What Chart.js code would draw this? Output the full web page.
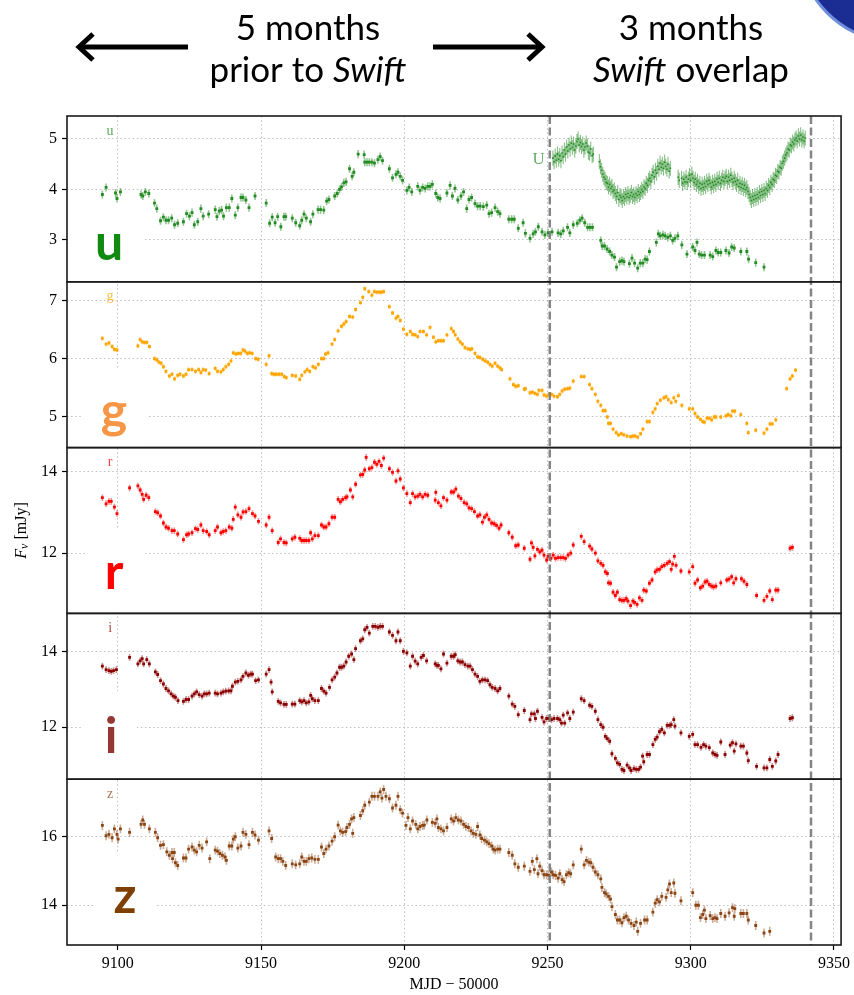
<!DOCTYPE html>
<html>
<head>
<meta charset="utf-8">
<script src="https://cdn.jsdelivr.net/npm/chart.js@4.4.1/dist/chart.umd.min.js"></script>
<style>
  html, body { margin: 0; padding: 0; background: #fff; }
  #wrap { position: relative; width: 854px; height: 995px; }
</style>
</head>
<body>
<div id="wrap"><canvas id="lc" width="854" height="995"></canvas></div>
<script>
// ---- Light curves: flux density (mJy) against MJD - 50000 ----

const uMjd = [9094.6,9095.9,9099.2,9099.7,9100.9,9108.1,9108.7,9109.6,9110.8,9112.8,9113.6,9114.9,9115.9,9116.8,9117.7,9118.8,9119.8,9120.9,9122.9,9124.0,9125.0,9125.9,9126.7,9127.9,9129.0,9129.8,9131.7,9134.0,9134.6,9135.4,9136.2,9136.9,9137.9,9138.9,9139.8,9141.0,9141.9,9143.0,9143.7,9144.7,9145.8,9147.9,9151.8,9153.0,9153.9,9154.9,9155.8,9156.9,9158.0,9158.6,9160.9,9162.1,9163.5,9164.2,9165.0,9165.8,9167.3,9168.1,9169.9,9170.8,9171.9,9172.9,9173.7,9175.7,9176.6,9177.4,9178.1,9178.9,9179.7,9180.9,9181.8,9182.4,9183.9,9186.0,9186.2,9187.0,9187.8,9188.7,9189.6,9190.8,9191.6,9192.4,9194.8,9195.9,9197.1,9197.8,9198.6,9199.4,9200.9,9201.7,9202.6,9204.7,9205.5,9206.4,9207.3,9208.2,9209.0,9209.8,9211.0,9211.7,9212.5,9214.9,9216.0,9216.8,9217.7,9218.7,9219.8,9220.7,9221.8,9222.6,9223.5,9224.7,9225.6,9226.5,9227.6,9228.8,9229.6,9230.5,9231.7,9232.6,9233.4,9236.5,9237.5,9238.4,9239.8,9241.5,9242.3,9243.9,9245.0,9245.8,9246.8,9248.1,9249.1,9250.2,9251.6,9253.7,9254.6,9255.5,9257.0,9257.8,9259.0,9260.4,9261.3,9262.1,9263.0,9264.0,9264.8,9265.7,9268.6,9269.1,9269.9,9270.8,9271.7,9272.5,9273.4,9274.1,9275.2,9276.0,9276.7,9278.6,9279.5,9280.4,9281.5,9282.4,9283.3,9284.1,9284.8,9285.6,9288.0,9288.7,9289.4,9290.3,9291.1,9292.0,9292.9,9293.7,9294.5,9295.5,9296.9,9298.7,9300.7,9301.5,9302.2,9303.0,9303.8,9304.8,9306.8,9307.7,9308.8,9309.6,9310.5,9312.3,9313.4,9314.3,9315.2,9317.5,9319.6,9320.2,9322.7,9325.6];
const uFlux = [3.90,4.04,3.93,3.82,3.95,3.90,3.87,3.95,3.92,3.73,3.62,3.38,3.45,3.39,3.39,3.43,3.30,3.33,3.36,3.52,3.47,3.54,3.30,3.36,3.62,3.47,3.51,3.60,3.46,3.57,3.59,3.47,3.64,3.64,3.82,3.49,3.64,3.84,3.84,3.79,3.64,3.87,3.73,3.33,3.45,3.34,3.46,3.26,3.46,3.46,3.43,3.34,3.28,3.39,3.51,3.43,3.36,3.51,3.60,3.60,3.59,3.77,3.80,3.87,3.92,4.00,4.05,4.13,4.15,4.41,4.26,4.34,4.70,4.69,4.54,4.54,4.54,4.54,4.52,4.59,4.65,4.57,4.41,4.23,4.30,4.34,4.26,4.18,3.98,4.04,3.95,4.06,3.98,4.04,4.02,4.06,4.06,4.10,3.92,3.84,3.82,3.93,4.08,3.87,4.02,3.79,3.87,3.95,3.62,3.80,3.84,3.72,3.67,3.67,3.66,3.69,3.52,3.54,3.64,3.56,3.52,3.41,3.41,3.41,3.23,3.34,3.13,3.03,3.12,3.16,3.26,3.16,3.10,3.14,3.16,3.14,3.12,3.18,3.25,3.14,3.30,3.33,3.39,3.43,3.34,3.25,3.25,3.25,2.99,2.88,2.88,2.82,2.77,2.70,2.66,2.46,2.57,2.59,2.57,2.53,2.64,2.54,2.44,2.54,2.54,2.62,2.61,2.77,2.95,3.12,3.08,3.10,3.08,3.05,3.08,2.99,3.03,3.08,2.90,2.72,2.86,2.79,2.95,2.72,2.70,2.70,2.70,2.67,2.79,2.75,2.75,2.79,2.74,2.86,2.84,2.77,2.77,2.62,2.55,2.46];

const swiftMjd = [9251.9,9252.3,9252.7,9253.1,9253.5,9253.9,9254.3,9254.7,9255.1,9255.5,9255.9,9256.3,9256.7,9257.1,9257.5,9257.9,9258.3,9258.7,9259.1,9259.5,9259.9,9260.3,9260.7,9261.1,9261.5,9261.9,9262.3,9262.7,9263.1,9263.5,9263.9,9264.3,9264.7,9265.1,9265.6,9266.0,9268.1,9268.5,9268.9,9269.3,9269.7,9270.1,9270.5,9270.9,9271.3,9271.7,9272.1,9272.5,9272.9,9273.3,9273.7,9274.1,9274.5,9274.9,9275.3,9275.7,9276.1,9276.5,9276.9,9277.3,9277.7,9278.1,9278.5,9278.9,9279.3,9279.7,9280.1,9280.5,9280.9,9281.3,9281.7,9282.1,9282.5,9282.9,9283.3,9283.7,9284.1,9284.5,9284.9,9285.3,9285.7,9286.1,9286.5,9286.9,9287.3,9287.7,9288.1,9288.5,9288.9,9289.3,9289.7,9290.1,9290.5,9290.9,9291.3,9291.7,9292.1,9292.5,9292.9,9295.6,9296.0,9296.8,9297.2,9297.6,9298.0,9298.4,9298.8,9299.2,9299.6,9300.0,9300.4,9300.8,9301.2,9301.6,9302.0,9302.4,9302.8,9303.2,9303.6,9304.0,9304.4,9304.8,9305.2,9305.6,9306.0,9306.4,9306.8,9307.2,9307.6,9308.0,9308.4,9308.8,9309.2,9309.6,9310.0,9310.4,9310.8,9311.2,9311.6,9312.0,9312.4,9312.8,9313.2,9313.6,9314.0,9314.4,9314.8,9315.2,9315.6,9316.0,9316.4,9316.8,9317.2,9317.6,9318.0,9318.4,9318.8,9319.2,9319.6,9320.0,9320.4,9320.8,9321.2,9321.6,9322.0,9322.4,9322.8,9323.2,9323.6,9324.0,9324.4,9324.8,9325.2,9325.6,9326.0,9326.4,9326.8,9327.2,9327.6,9328.0,9328.4,9328.8,9329.2,9329.6,9330.0,9330.4,9330.8,9331.2,9331.6,9332.0,9332.4,9332.8,9333.2,9333.6,9334.0,9334.4,9334.8,9335.2,9335.6,9336.0,9336.4,9336.8,9337.2,9337.6,9338.0,9338.4,9338.8,9339.2,9339.6,9340.0];
const swiftU = [4.62,4.55,4.66,4.58,4.70,4.60,4.67,4.57,4.72,4.65,4.78,4.70,4.84,4.76,4.88,4.80,4.92,4.83,4.90,4.78,4.86,4.95,5.00,4.88,4.93,4.85,4.90,4.78,4.84,4.92,4.86,4.74,4.72,4.80,4.67,4.70,4.55,4.45,4.38,4.30,4.24,4.20,4.14,4.12,4.05,4.10,4.02,4.06,3.96,3.99,3.92,3.86,3.94,3.80,3.88,3.84,3.78,3.86,3.82,3.90,3.85,3.92,3.84,3.88,3.94,3.86,3.90,3.84,3.92,3.88,3.96,3.90,3.94,4.00,3.96,4.05,4.02,4.12,4.08,4.18,4.22,4.16,4.28,4.34,4.25,4.38,4.32,4.46,4.40,4.52,4.44,4.50,4.42,4.54,4.46,4.40,4.50,4.36,4.42,4.24,4.18,4.22,4.12,4.20,4.15,4.24,4.14,4.20,4.28,4.18,4.30,4.22,4.14,4.20,4.10,4.16,4.06,4.12,4.02,4.10,4.04,4.12,4.06,4.16,4.10,4.18,4.12,4.05,4.14,4.08,4.16,4.10,4.20,4.14,4.22,4.12,4.18,4.24,4.16,4.22,4.26,4.16,4.24,4.18,4.28,4.20,4.14,4.22,4.16,4.10,4.18,4.06,4.12,4.04,4.10,4.02,4.08,4.00,4.04,3.96,3.90,3.84,3.78,3.86,3.80,3.88,3.82,3.90,3.84,3.94,3.88,3.96,3.90,3.98,3.92,4.02,3.98,4.08,4.04,4.14,4.10,4.20,4.18,4.28,4.26,4.36,4.34,4.44,4.42,4.52,4.56,4.62,4.68,4.72,4.80,4.78,4.88,4.86,4.94,4.90,4.98,5.02,4.96,5.06,5.00,5.08,4.98,5.04,4.96,5.02];

const gMjd = [9094.6,9095.9,9096.9,9098.0,9098.8,9099.7,9107.0,9107.8,9108.5,9109.3,9110.1,9111.0,9112.8,9113.6,9114.3,9115.1,9115.9,9116.8,9118.0,9118.9,9119.8,9120.9,9121.7,9122.9,9123.8,9124.7,9125.9,9127.1,9128.2,9129.0,9129.8,9130.7,9131.9,9134.0,9134.8,9136.0,9136.8,9137.7,9138.7,9139.5,9140.3,9141.2,9142.1,9142.9,9143.7,9144.4,9145.2,9146.0,9146.9,9148.1,9149.0,9151.8,9152.8,9153.7,9154.5,9155.3,9156.2,9157.2,9158.1,9158.8,9160.9,9162.1,9163.5,9164.2,9165.3,9166.1,9167.0,9168.1,9169.0,9170.0,9171.1,9171.9,9172.5,9173.4,9174.8,9175.7,9176.9,9178.1,9178.9,9179.7,9180.9,9182.0,9183.0,9184.7,9185.5,9186.2,9187.6,9188.7,9189.6,9190.4,9191.3,9192.0,9192.8,9194.8,9195.9,9197.1,9197.8,9198.6,9199.7,9200.9,9202.1,9202.9,9203.8,9204.7,9205.5,9206.7,9207.8,9209.0,9210.2,9211.0,9211.9,9212.8,9213.7,9214.9,9216.4,9217.2,9217.8,9218.7,9219.5,9220.3,9221.2,9222.2,9223.0,9223.6,9224.7,9225.6,9226.4,9227.4,9228.2,9229.1,9229.9,9230.7,9231.7,9232.6,9233.4,9234.0,9236.9,9238.1,9238.9,9239.8,9241.9,9242.3,9243.9,9244.7,9245.6,9246.5,9247.0,9248.1,9248.8,9249.7,9250.5,9251.4,9252.3,9253.5,9254.3,9255.1,9256.0,9257.0,9257.8,9259.0,9261.8,9262.8,9264.7,9265.5,9266.7,9267.6,9268.6,9269.4,9270.2,9270.9,9271.3,9272.0,9272.9,9274.0,9274.8,9275.8,9276.7,9277.8,9279.0,9279.8,9280.6,9281.5,9282.5,9283.3,9284.8,9285.6,9286.8,9287.6,9288.3,9289.4,9290.6,9291.4,9292.2,9293.2,9294.1,9294.8,9295.7,9296.9,9299.5,9300.7,9301.5,9302.4,9303.4,9304.2,9304.8,9305.7,9306.5,9307.3,9308.2,9308.8,9310.5,9312.3,9313.1,9314.0,9314.6,9315.4,9317.5,9319.6,9320.1,9322.7,9325.6,9326.6,9327.7,9328.5,9329.7,9333.5,9334.7,9335.5,9336.6];
const gFlux = [6.35,6.25,6.27,6.21,6.16,6.15,6.22,6.33,6.29,6.28,6.28,6.21,6.00,5.98,5.94,5.92,5.86,5.78,5.70,5.73,5.65,5.71,5.73,5.70,5.73,5.81,5.81,5.78,5.81,5.76,5.81,5.80,5.74,5.83,5.78,5.77,5.81,5.86,5.90,5.96,6.10,6.08,6.09,6.09,6.15,6.13,6.09,6.10,6.09,6.00,5.99,5.90,6.05,5.74,5.73,5.73,5.73,5.73,5.69,5.67,5.71,5.70,5.64,5.71,5.77,5.81,5.78,5.86,5.84,5.90,6.00,6.00,6.08,6.10,6.25,6.33,6.48,6.56,6.60,6.64,6.73,6.72,6.85,6.97,7.06,7.21,7.16,7.10,7.16,7.15,7.15,7.15,7.16,6.90,6.79,6.70,6.73,6.66,6.51,6.42,6.47,6.42,6.41,6.38,6.47,6.47,6.41,6.54,6.37,6.29,6.31,6.31,6.31,6.41,6.52,6.47,6.41,6.34,6.29,6.25,6.19,6.17,6.16,6.17,6.09,6.03,6.02,5.99,5.96,5.94,5.90,5.87,5.92,5.87,5.84,5.81,5.65,5.55,5.52,5.53,5.47,5.48,5.41,5.42,5.40,5.38,5.45,5.45,5.37,5.35,5.38,5.38,5.35,5.34,5.38,5.44,5.47,5.48,5.49,5.61,5.69,5.69,5.55,5.48,5.38,5.26,5.19,5.10,5.10,4.99,4.88,4.88,4.78,4.72,4.68,4.70,4.68,4.66,4.65,4.66,4.66,4.64,4.70,4.78,4.91,4.91,5.07,5.13,5.22,5.28,5.32,5.34,5.29,5.24,5.32,5.26,5.36,5.19,5.13,5.13,5.05,4.99,4.95,4.91,4.90,4.97,4.97,4.94,4.99,4.99,4.99,5.01,5.03,5.01,5.09,5.09,5.03,4.88,4.72,4.76,4.71,4.78,4.87,4.87,4.94,5.48,5.65,5.70,5.80];

const rMjd = [9094.6,9095.9,9096.9,9097.7,9098.8,9099.7,9104.1,9107.0,9107.8,9108.5,9109.0,9109.9,9110.8,9113.1,9113.9,9114.9,9115.9,9116.8,9117.7,9118.9,9119.7,9120.9,9122.9,9124.0,9124.7,9125.9,9127.1,9127.9,9129.0,9129.8,9131.0,9131.9,9134.0,9134.8,9136.0,9136.8,9137.7,9138.9,9139.8,9140.3,9141.0,9141.9,9143.0,9143.7,9144.7,9145.8,9147.0,9147.9,9149.1,9151.8,9152.8,9153.9,9156.0,9156.8,9158.0,9158.8,9160.9,9161.8,9163.5,9164.2,9165.0,9165.8,9166.7,9167.3,9167.9,9168.8,9170.0,9171.1,9171.9,9172.7,9173.7,9174.8,9175.7,9176.9,9177.7,9178.5,9179.5,9180.0,9181.2,9182.0,9183.0,9184.7,9185.5,9186.2,9186.7,9187.8,9188.7,9189.6,9190.4,9191.2,9192.0,9192.8,9194.8,9195.9,9197.1,9197.8,9198.6,9199.7,9200.9,9202.1,9202.9,9203.8,9204.7,9205.5,9206.4,9207.3,9208.2,9210.8,9211.0,9211.9,9212.8,9213.7,9214.9,9216.4,9217.2,9218.0,9218.9,9219.8,9220.9,9221.8,9222.6,9223.5,9224.5,9225.6,9226.4,9227.3,9228.0,9228.8,9229.6,9230.5,9231.4,9232.2,9233.1,9233.8,9236.5,9237.7,9238.9,9239.8,9241.9,9243.9,9244.4,9245.0,9245.6,9246.5,9247.3,9248.1,9248.8,9249.7,9250.2,9251.2,9252.0,9252.8,9253.7,9254.6,9255.5,9256.3,9257.2,9258.1,9259.0,9261.8,9262.8,9264.7,9265.5,9266.7,9267.6,9268.6,9269.4,9270.2,9270.9,9271.3,9272.0,9272.9,9273.7,9274.4,9275.2,9276.0,9276.7,9277.5,9278.1,9279.0,9279.8,9280.4,9281.3,9282.1,9283.0,9283.6,9284.5,9285.6,9286.5,9287.6,9288.3,9289.1,9289.9,9290.8,9291.8,9292.6,9293.2,9293.7,9294.3,9294.9,9296.6,9299.5,9300.7,9301.5,9302.4,9303.4,9304.2,9305.0,9305.7,9306.5,9307.3,9308.0,9308.8,9310.5,9312.6,9313.4,9314.3,9315.0,9315.8,9317.7,9318.6,9319.6,9323.0,9325.6,9326.6,9327.6,9328.5,9329.7,9330.5,9334.7,9335.5];
const rFlux = [13.36,13.21,13.27,13.27,13.13,12.97,13.60,13.65,13.55,13.44,13.32,13.42,13.36,13.02,12.99,12.91,12.74,12.64,12.61,12.55,12.55,12.47,12.33,12.45,12.47,12.50,12.60,12.58,12.69,12.55,12.53,12.45,12.55,12.64,12.50,12.53,12.55,12.64,12.61,12.83,13.13,12.94,12.88,13.01,13.02,13.09,12.97,12.91,12.78,12.69,12.88,12.55,12.26,12.35,12.26,12.25,12.35,12.39,12.36,12.31,12.31,12.31,12.31,12.50,12.35,12.43,12.43,12.69,12.64,12.64,12.72,12.88,12.88,13.32,13.26,13.32,13.36,13.38,13.55,13.38,13.69,13.92,13.93,14.04,14.35,14.07,14.10,14.23,14.18,14.25,14.15,14.33,14.07,13.98,13.77,14.02,13.82,13.60,13.46,13.24,13.46,13.38,13.40,13.44,13.38,13.44,13.42,13.30,13.49,13.24,13.16,13.36,13.30,13.50,13.50,13.57,13.40,13.34,13.24,13.21,13.11,13.09,13.02,12.91,12.94,12.76,12.88,12.94,12.83,12.74,12.72,12.68,12.61,12.69,12.50,12.39,12.18,12.20,12.12,11.85,12.25,12.14,11.93,12.09,12.03,12.07,11.95,11.83,11.92,11.87,11.95,11.87,11.89,11.89,11.89,11.87,11.95,12.00,12.20,12.41,12.28,12.17,12.10,12.00,11.81,11.75,11.70,11.54,11.50,11.27,11.26,11.04,10.96,11.04,10.86,10.84,10.84,10.88,10.82,10.71,10.82,10.79,10.74,10.90,10.84,11.09,11.07,11.26,11.34,11.54,11.59,11.60,11.67,11.70,11.75,11.79,11.60,11.73,11.92,11.70,11.56,11.54,11.67,11.26,11.34,11.15,11.19,11.29,11.31,11.23,11.19,11.17,11.19,11.27,11.34,11.36,11.42,11.27,11.37,11.37,11.31,11.23,10.96,10.84,10.94,11.07,10.86,11.09,11.09,12.12,12.14];

const iMjd = [9094.6,9095.9,9096.9,9097.7,9098.5,9099.5,9104.1,9107.0,9107.8,9108.5,9109.0,9110.1,9111.0,9113.1,9113.9,9114.9,9115.9,9116.8,9117.7,9118.6,9119.4,9120.1,9121.0,9122.9,9123.8,9124.7,9125.9,9126.7,9127.5,9128.4,9129.4,9130.2,9131.0,9131.9,9134.0,9134.8,9136.0,9136.8,9137.7,9138.7,9139.5,9140.0,9141.0,9141.9,9143.0,9143.7,9144.7,9145.6,9146.4,9147.0,9148.1,9149.1,9151.8,9152.8,9153.5,9153.9,9156.0,9156.8,9158.0,9158.8,9160.9,9161.8,9163.5,9164.2,9165.0,9165.8,9166.7,9167.3,9167.9,9168.8,9170.0,9171.1,9171.9,9172.7,9173.9,9174.8,9175.7,9176.5,9177.4,9178.1,9178.9,9179.7,9180.6,9181.6,9182.4,9183.0,9184.7,9185.5,9186.2,9187.0,9187.8,9189.0,9189.9,9190.8,9191.6,9192.4,9194.8,9195.9,9197.1,9197.8,9198.6,9199.7,9200.9,9202.1,9202.9,9203.8,9204.7,9205.9,9206.7,9207.8,9210.8,9211.4,9211.9,9212.8,9213.7,9214.9,9216.4,9217.2,9217.8,9218.7,9219.5,9220.3,9221.2,9222.2,9223.0,9223.8,9224.7,9225.6,9226.4,9227.3,9228.2,9229.1,9229.9,9230.7,9231.7,9232.6,9233.4,9236.5,9237.7,9238.6,9239.8,9241.9,9243.9,9244.4,9245.4,9245.8,9246.5,9248.1,9248.8,9249.7,9250.5,9251.4,9252.3,9253.5,9254.3,9254.9,9255.5,9256.0,9257.0,9257.8,9259.0,9261.8,9262.8,9264.7,9265.5,9266.7,9267.6,9268.6,9269.4,9270.2,9270.9,9271.7,9272.5,9273.7,9274.4,9275.2,9276.0,9276.7,9277.8,9278.6,9279.2,9280.2,9281.0,9281.8,9282.5,9283.2,9283.6,9284.8,9285.6,9286.8,9287.6,9288.3,9289.1,9289.9,9290.8,9291.8,9292.6,9293.2,9294.1,9294.5,9296.6,9299.5,9300.7,9301.5,9302.4,9303.6,9304.5,9305.3,9306.5,9307.7,9308.5,9309.2,9310.5,9312.0,9313.8,9314.6,9315.2,9315.8,9317.5,9318.4,9319.6,9320.1,9323.0,9325.6,9326.6,9327.6,9328.5,9329.7,9330.5,9334.7,9335.5];
const iFlux = [13.61,13.52,13.49,13.47,13.49,13.52,13.84,13.67,13.75,13.81,13.67,13.78,13.67,13.46,13.39,13.23,13.14,13.02,12.96,12.88,12.82,12.79,12.70,12.68,12.73,12.73,12.82,12.88,12.93,12.86,12.82,12.88,12.88,12.90,12.90,12.88,12.90,12.93,12.95,12.96,12.96,13.08,13.19,13.21,13.25,13.34,13.43,13.37,13.40,13.40,13.23,13.25,13.40,13.52,13.19,12.93,12.68,12.64,12.60,12.60,12.61,12.61,12.70,12.67,12.70,12.64,12.67,12.84,12.75,12.70,12.70,13.02,12.95,12.90,13.05,13.25,13.32,13.43,13.58,13.58,13.61,13.72,13.87,13.93,13.78,14.07,14.28,14.33,14.57,14.63,14.48,14.66,14.66,14.63,14.66,14.66,14.51,14.42,14.28,14.51,14.28,14.00,13.96,13.61,13.87,13.74,13.67,13.84,13.89,13.75,13.67,13.63,13.63,13.54,13.93,13.69,13.87,13.87,13.91,13.75,13.72,13.72,13.65,13.61,13.61,13.52,13.40,13.34,13.21,13.25,13.25,13.23,13.12,13.05,13.02,12.96,13.02,12.82,12.61,12.55,12.33,12.44,12.20,12.35,12.35,12.23,12.42,12.26,12.14,12.23,12.23,12.20,12.23,12.23,12.20,12.11,12.32,12.11,12.38,12.23,12.40,12.75,12.70,12.58,12.55,12.42,12.20,12.07,12.00,11.76,11.70,11.63,11.30,11.18,11.06,11.02,10.89,10.86,11.00,10.93,10.86,10.91,10.89,10.89,10.95,11.24,11.09,11.28,11.28,11.54,11.68,11.74,11.88,11.94,11.85,12.05,12.05,12.07,12.20,12.03,11.85,11.76,11.81,11.54,11.54,11.47,11.54,11.50,11.46,11.32,11.28,11.26,11.61,11.28,11.53,11.59,11.37,11.56,11.50,11.50,11.32,11.12,10.97,10.93,10.93,11.15,10.97,11.11,11.28,12.23,12.25];

const zMjd = [9094.6,9095.9,9096.9,9098.0,9098.8,9099.7,9100.1,9100.9,9104.1,9108.1,9108.7,9109.3,9111.0,9113.1,9113.9,9114.9,9115.9,9117.1,9118.0,9118.9,9119.1,9119.7,9120.1,9120.9,9122.9,9123.8,9124.7,9125.9,9126.7,9127.5,9128.4,9129.4,9131.0,9132.1,9134.0,9134.8,9135.6,9136.5,9137.4,9137.9,9138.9,9139.8,9140.3,9141.0,9141.9,9143.0,9143.7,9144.7,9145.8,9147.0,9147.9,9149.1,9152.8,9153.7,9155.1,9156.0,9156.8,9157.6,9158.6,9160.9,9162.1,9163.5,9164.2,9165.0,9165.8,9166.7,9167.7,9168.8,9170.0,9171.1,9171.9,9172.7,9173.7,9174.8,9175.7,9176.9,9177.7,9178.5,9179.5,9180.0,9180.9,9181.6,9182.0,9182.4,9184.7,9185.5,9186.2,9187.8,9188.7,9189.6,9190.8,9191.6,9192.2,9192.8,9193.6,9194.8,9195.9,9197.1,9197.8,9198.6,9199.4,9200.6,9201.3,9202.1,9202.9,9204.0,9204.7,9205.5,9206.4,9207.0,9207.9,9209.8,9210.8,9211.4,9211.9,9212.8,9213.7,9214.9,9216.4,9217.2,9218.0,9218.9,9219.8,9220.7,9221.5,9222.4,9223.3,9224.1,9225.0,9225.6,9226.4,9227.0,9228.0,9228.8,9229.6,9230.5,9231.1,9231.7,9232.6,9233.4,9236.5,9237.7,9238.6,9239.8,9241.9,9243.9,9244.7,9245.4,9246.3,9246.7,9247.3,9248.1,9248.8,9249.7,9250.5,9251.4,9252.0,9252.8,9253.7,9254.3,9255.1,9255.8,9256.6,9257.4,9258.1,9259.0,9261.8,9262.8,9263.6,9264.4,9265.1,9265.9,9266.7,9267.6,9268.6,9269.0,9269.9,9270.5,9271.3,9272.0,9272.5,9273.7,9274.4,9275.2,9276.0,9276.7,9277.5,9278.3,9279.2,9280.2,9281.0,9281.5,9282.5,9283.9,9284.8,9286.8,9287.6,9288.3,9289.1,9289.9,9291.4,9292.0,9292.6,9293.2,9294.1,9294.5,9296.6,9300.7,9301.8,9302.7,9303.4,9304.2,9304.8,9305.3,9306.8,9307.7,9308.5,9309.2,9310.5,9312.0,9313.4,9314.6,9315.2,9315.4,9317.5,9318.4,9319.6,9320.1,9322.7,9325.6,9327.6];
const zFlux = [16.33,16.03,16.07,15.97,16.23,16.07,15.93,16.23,16.13,16.36,16.49,16.36,16.23,16.13,15.97,15.75,15.77,15.56,15.46,15.54,15.36,15.54,15.24,15.16,15.38,15.38,15.64,15.70,15.61,15.56,15.75,15.67,15.85,15.36,15.61,15.58,15.51,15.46,15.41,15.31,15.73,15.73,15.93,16.00,15.67,15.73,16.13,16.07,15.77,16.13,16.05,15.90,16.17,15.95,15.41,15.36,15.36,15.28,15.16,15.21,15.18,15.21,15.41,15.28,15.28,15.36,15.38,15.34,15.34,15.70,15.51,15.64,15.73,15.87,16.00,16.34,16.17,16.13,16.15,16.27,16.36,16.52,16.10,16.56,16.62,16.76,16.92,17.01,17.18,17.18,17.18,17.31,17.13,17.38,17.18,17.11,16.84,16.92,17.18,16.79,16.69,16.33,16.56,16.23,16.46,16.36,16.23,16.30,16.33,16.34,16.49,16.42,16.39,16.52,16.27,16.23,16.17,16.27,16.52,16.46,16.56,16.49,16.46,16.36,16.30,16.27,16.17,16.10,16.07,16.30,16.05,15.95,15.90,15.85,15.80,15.73,15.64,15.61,15.64,15.64,15.54,15.46,15.21,15.11,15.14,14.99,15.28,15.04,15.36,14.92,15.14,15.01,14.89,14.89,14.87,14.97,14.89,14.87,14.79,14.92,14.75,14.69,14.89,14.95,14.92,15.18,15.64,15.18,15.31,15.26,15.24,15.11,14.97,14.89,14.77,14.52,14.37,14.33,14.26,14.18,13.96,13.73,13.57,13.57,13.49,13.64,13.68,13.57,13.47,13.41,13.51,13.24,13.47,13.57,13.57,13.80,14.06,14.16,14.10,14.26,14.23,14.45,14.62,14.37,14.65,14.35,14.13,14.37,14.00,14.00,13.64,13.73,13.86,13.61,13.70,13.61,13.64,13.61,13.76,13.68,13.78,13.93,13.68,13.90,13.76,13.76,13.76,13.57,13.41,13.19,13.24];

// typical 1-sigma uncertainties per band (mJy)
const uErr = 0.08, swiftErr = 0.15, gErr = 0.04, rErr = 0.08, iErr = 0.09, zErr = 0.13;

// Swift monitoring window (start, end)
const swiftWindow = [9250.8, 9342.0];

const xTickValues = [9100, 9150, 9200, 9250, 9300, 9350];
const uTicks = [3, 4, 5];
const gTicks = [5, 6, 7];
const rTicks = [12, 14];
const iTicks = [12, 14];
const zTicks = [14, 16];

const pts = (xs, ys) => xs.map((x, k) => ({ x: x, y: ys[k] }));

const SERIF = '"Liberation Serif", "DejaVu Serif", serif';

// panel setup, top to bottom
const panels = [
  { id: 'yu', band: 'u', min: 2.17, max: 5.455, ticks: uTicks, color: '#228B22', big: '#108a10', bigX: 109, bigDy: 0.87, box: [68, 145, 0.50] },
  { id: 'yg', band: 'g', min: 4.46, max: 7.33, ticks: gTicks, color: '#FFA500', big: '#F79646', bigX: 114, bigDy: 0.88, box: [83, 148, 0.52] },
  { id: 'yr', band: 'r', min: 10.52, max: 14.59, ticks: rTicks, color: '#FF0000', big: '#FF0000', bigX: 114, bigDy: 0.85, box: [85, 145, 0.49] },
  { id: 'yi', band: 'i', min: 10.63, max: 15.0, ticks: iTicks, color: '#8B0000', big: '#953735', bigX: 111, bigDy: 0.84, box: [83, 137, 0.47] },
  { id: 'yz', band: 'z', min: 12.84, max: 17.68, ticks: zTicks, color: '#8B4513', big: '#7F3F00', bigX: 125, bigDy: 0.805, box: [95, 157, 0.44] }
];

function yScale(p) {
  return {
    type: 'linear',
    position: 'left',
    stack: 'bands',
    stackWeight: 1,
    min: p.min,
    max: p.max,
    afterBuildTicks: s => { s.ticks = p.ticks.map(v => ({ value: v })); },
    afterFit: s => { s.width = 67; },
    grid: { color: '#b8b8b8', lineWidth: 0.9, drawTicks: true, tickLength: 5, tickColor: '#000', tickWidth: 1.2, tickBorderDash: [] },
    border: { display: false, dash: [1.5, 2.6] },
    ticks: { color: '#000', padding: 5, font: { family: SERIF, size: 16 }, callback: v => String(v) }
  };
}

const scales = {
  x: {
    type: 'linear',
    position: 'bottom',
    min: 9082.25,
    max: 9352.5,
    afterBuildTicks: s => { s.ticks = xTickValues.map(v => ({ value: v })); },
    afterFit: s => { s.height = 50; },
    grid: { color: '#b8b8b8', lineWidth: 0.9, drawTicks: true, tickLength: 5, tickColor: '#000', tickWidth: 1.2, tickBorderDash: [] },
    border: { display: false, dash: [1.5, 2.6] },
    ticks: { color: '#000', padding: 4, maxRotation: 0, font: { family: SERIF, size: 16 }, callback: v => String(v) },
    title: { display: true, text: 'MJD \u2212 50000', color: '#000', font: { family: SERIF, size: 16 }, padding: { top: 0, bottom: 1 } }
  }
};
// stacked left axes are laid out with the last one on top
[...panels].reverse().forEach(p => { scales[p.id] = yScale(p); });

function ds(label, data, yId, color, err, errColor, r, errW) {
  return {
    label: label, data: data, yAxisID: yId,
    backgroundColor: color, borderWidth: 0,
    pointStyle: 'rect', pointRadius: r, pointHoverRadius: r,
    err: err, errColor: errColor, errWidth: errW
  };
}

const datasets = [
  ds('U (Swift)', pts(swiftMjd, swiftU), 'yu', '#228B22', swiftErr, 'rgba(34,139,34,0.55)', 1.1, 1.1),
  ds('u', pts(uMjd, uFlux), 'yu', '#228B22', uErr, 'rgba(34,139,34,0.5)', 2.0, 1.6),
  ds('g', pts(gMjd, gFlux), 'yg', '#FFA500', gErr, 'rgba(255,165,0,0.5)', 2.0, 1.6),
  ds('r', pts(rMjd, rFlux), 'yr', '#FF0000', rErr, 'rgba(255,0,0,0.45)', 2.0, 1.6),
  ds('i', pts(iMjd, iFlux), 'yi', '#8B0000', iErr, 'rgba(139,0,0,0.45)', 2.0, 1.6),
  ds('z', pts(zMjd, zFlux), 'yz', '#8B4513', zErr, 'rgba(139,69,19,0.45)', 2.0, 1.6)
];

const drawings = {
  id: 'drawings',
  beforeDatasetsDraw(chart) {
    const ctx = chart.ctx, ca = chart.chartArea, xs = chart.scales.x;
    // white label boxes with the large band letters
    panels.forEach(p => {
      const ys = chart.scales[p.id];
      const top = ys.top + ys.height * p.box[2];
      ctx.save();
      ctx.fillStyle = '#fff';
      ctx.fillRect(Math.max(p.box[0], ca.left + 1), top, p.box[1] - Math.max(p.box[0], ca.left + 1), ys.bottom - top - 1);
      ctx.fillStyle = p.big;
      ctx.font = 'bold 50px Lato, "Open Sans", sans-serif';
      ctx.textAlign = 'center';
      ctx.textBaseline = 'alphabetic';
      ctx.fillText(p.band, p.bigX, ys.top + ys.height * p.bigDy);
      // small band tag near the top-left corner
      ctx.globalAlpha = 0.75;
      ctx.fillStyle = p.color;
      ctx.font = '14px ' + SERIF;
      ctx.textBaseline = 'middle';
      ctx.fillText(p.band, xs.getPixelForValue(9097.3), ys.top + 15);
      ctx.restore();
    });
    // vertical error bars
    chart.data.datasets.forEach(d => {
      const ys = chart.scales[d.yAxisID];
      ctx.save();
      ctx.beginPath();
      ctx.rect(ca.left, ys.top, ca.right - ca.left, ys.bottom - ys.top);
      ctx.clip();
      ctx.strokeStyle = d.errColor;
      ctx.lineWidth = d.errWidth;
      ctx.beginPath();
      d.data.forEach(pt => {
        const px = xs.getPixelForValue(pt.x);
        ctx.moveTo(px, ys.getPixelForValue(pt.y - d.err));
        ctx.lineTo(px, ys.getPixelForValue(pt.y + d.err));
      });
      ctx.stroke();
      ctx.restore();
    });
  },
  afterDatasetsDraw(chart) {
    const ctx = chart.ctx, ca = chart.chartArea, xs = chart.scales.x;
    // Swift window markers
    ctx.save();
    ctx.strokeStyle = 'rgba(120,120,120,0.9)';
    ctx.lineWidth = 2.5;
    ctx.setLineDash([8, 3.5]);
    swiftWindow.forEach(v => {
      const px = xs.getPixelForValue(v);
      ctx.beginPath();
      ctx.moveTo(px, ca.top);
      ctx.lineTo(px, ca.bottom);
      ctx.stroke();
    });
    ctx.restore();
    // "U" tag for the Swift data
    ctx.save();
    ctx.fillStyle = 'rgba(34,139,34,0.7)';
    ctx.font = '17px ' + SERIF;
    ctx.textAlign = 'center';
    ctx.textBaseline = 'middle';
    ctx.fillText('U', xs.getPixelForValue(9246.9), chart.scales.yu.getPixelForValue(4.6));
    ctx.restore();
  },
  afterDraw(chart) {
    const ctx = chart.ctx, ca = chart.chartArea;
    // panel frames
    ctx.save();
    ctx.strokeStyle = '#1a1a1a';
    ctx.lineWidth = 1.6;
    panels.forEach(p => {
      const ys = chart.scales[p.id];
      ctx.strokeRect(ca.left, ys.top, ca.right - ca.left, ys.bottom - ys.top);
    });
    ctx.restore();

    // shared y-axis label: F_nu [mJy]
    ctx.save();
    ctx.translate(22, (ca.top + ca.bottom) / 2);
    ctx.rotate(-Math.PI / 2);
    ctx.fillStyle = '#000';
    ctx.textBaseline = 'middle';
    const partsY = [
      { t: 'F', f: 'italic 16px ' + SERIF, dy: 0 },
      { t: '\u03bd', f: 'italic 12px ' + SERIF, dy: 3 },
      { t: ' [mJy]', f: '16px ' + SERIF, dy: 0 }
    ];
    let tw = 0;
    partsY.forEach(q => { ctx.font = q.f; q.w = ctx.measureText(q.t).width; tw += q.w; });
    let xx = -tw / 2;
    partsY.forEach(q => { ctx.font = q.f; ctx.fillText(q.t, xx, q.dy); xx += q.w; });
    ctx.restore();

    // heading above the panels
    ctx.save();
    ctx.fillStyle = '#000';
    ctx.textBaseline = 'alphabetic';
    const HF = '35px Lato, "Open Sans", sans-serif';
    const HFI = 'italic 35px Lato, "Open Sans", sans-serif';
    function rich(parts, cx, y) {
      let w = 0;
      parts.forEach(q => { ctx.font = q[1] ? HFI : HF; q.w = ctx.measureText(q[0]).width; w += q.w; });
      let x = cx - w / 2;
      parts.forEach(q => { ctx.font = q[1] ? HFI : HF; ctx.fillText(q[0], x, y); x += q.w; });
    }
    rich([['5 months', false]], 308, 40);
    rich([['prior to ', false], ['Swift', true]], 308, 82);
    rich([['3 months', false]], 691, 40);
    rich([['Swift', true], [' overlap', false]], 691, 82);

    ctx.strokeStyle = '#000';
    ctx.lineWidth = 5;
    ctx.lineCap = 'butt';
    ctx.lineJoin = 'miter';
    // left arrow
    ctx.beginPath(); ctx.moveTo(80, 47); ctx.lineTo(188, 47); ctx.stroke();
    ctx.beginPath(); ctx.moveTo(93, 34); ctx.lineTo(79, 47); ctx.lineTo(93, 60); ctx.stroke();
    // right arrow
    ctx.beginPath(); ctx.moveTo(433, 47); ctx.lineTo(541, 47); ctx.stroke();
    ctx.beginPath(); ctx.moveTo(528, 34); ctx.lineTo(542, 47); ctx.lineTo(528, 60); ctx.stroke();

    // corner ornament
    ctx.beginPath();
    ctx.arc(900, -60, 103, 0, Math.PI * 2);
    ctx.fillStyle = '#1b2c92';
    ctx.fill();
    ctx.lineWidth = 3;
    ctx.strokeStyle = '#6f8fdc';
    ctx.stroke();
    ctx.restore();
  }
};

new Chart(document.getElementById('lc'), {
  type: 'scatter',
  data: { datasets: datasets },
  options: {
    responsive: false,
    animation: false,
    devicePixelRatio: 1,
    layout: { padding: { top: 116, right: 10, left: 0, bottom: 0 } },
    plugins: { legend: { display: false }, tooltip: { enabled: false } },
    scales: scales
  },
  plugins: [drawings]
});
</script>
</body>
</html>
